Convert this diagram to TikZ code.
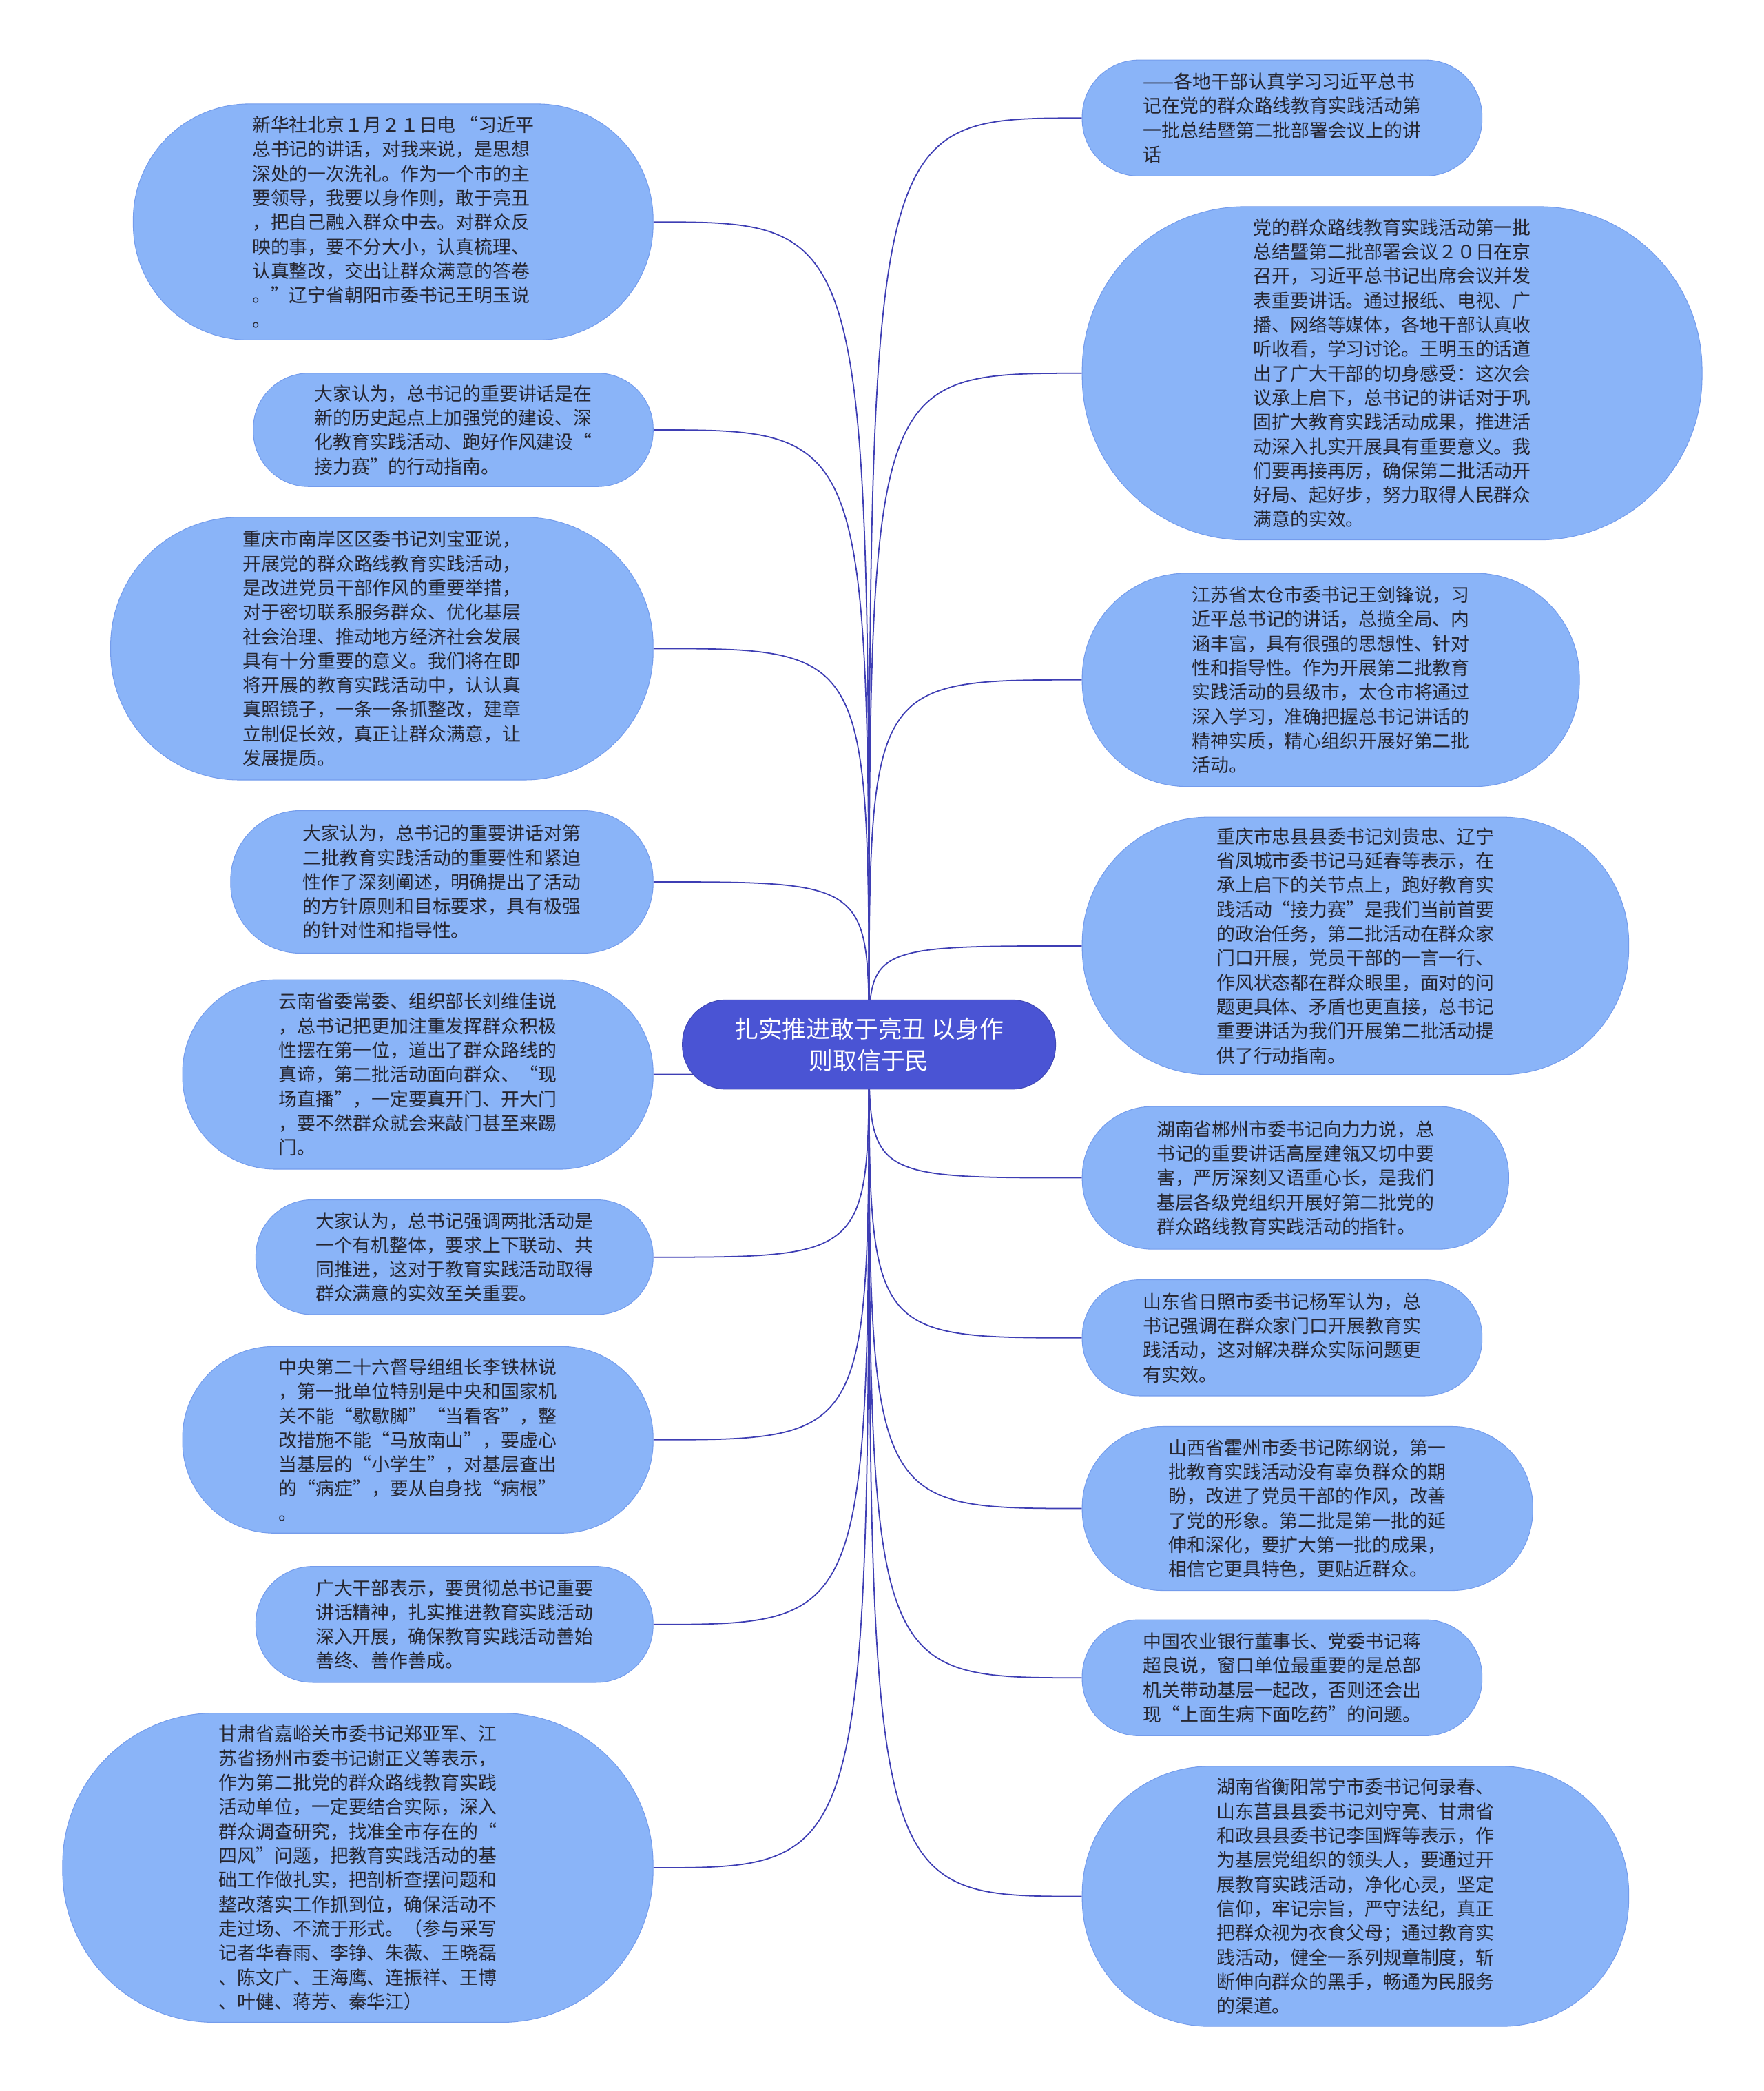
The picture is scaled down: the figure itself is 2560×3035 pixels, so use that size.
\documentclass[tikz,border=0pt]{standalone}
\usepackage{fontspec}
\usepackage{tikz}
\usetikzlibrary{backgrounds}
\newfontfamily\cjkfont{Noto Sans CJK SC}
\definecolor{leafcolor}{RGB}{138,180,248}
\definecolor{leafline}{RGB}{116,156,236}
\definecolor{rootcolor}{RGB}{74,84,212}
\definecolor{linkcolor}{RGB}{62,62,180}
\definecolor{inkcolor}{RGB}{38,38,48}

\begin{document}
\begin{tikzpicture}[x=0.02cm,y=-0.02cm,
  leaf/.style 2 args={draw=leafline, line width=0.6pt, fill=leafcolor, text=inkcolor, align=left,
    font=\cjkfont\fontsize{15.3pt}{20.1pt}\selectfont, inner sep=0pt,
    minimum width=#1*0.02cm, minimum height=#2*0.02cm, rounded corners=#2*0.0098cm},
  rootbox/.style={draw=rootcolor!85!black, line width=0.6pt, fill=rootcolor, text=white, align=center,
    font=\cjkfont\fontsize{19.8pt}{26.4pt}\selectfont, inner sep=0pt,
    minimum width=541.8*0.02cm, minimum height=129.6*0.02cm, rounded corners=129.6*0.0098cm},
  link/.style={linkcolor, line width=1pt}]
\useasboundingbox (0,0) rectangle (2560,3035);

\node[rootbox] (root) at (1261.6,1516.1) {扎实推进敢于亮丑 以身作\\则取信于民};

\node[leaf={754.7}{342.5}] (l1) at (570.8,322.2) {新华社北京１月２１日电 “习近平\\
总书记的讲话，对我来说，是思想\\
深处的一次洗礼。作为一个市的主\\
要领导，我要以身作则，敢于亮丑\\
，把自己融入群众中去。对群众反\\
映的事，要不分大小，认真梳理、\\
认真整改，交出让群众满意的答卷\\
。”辽宁省朝阳市委书记王明玉说\\
。};
\node[leaf={580.5}{164.5}] (l2) at (658,624) {大家认为，总书记的重要讲话是在\\
新的历史起点上加强党的建设、深\\
化教育实践活动、跑好作风建设“\\
接力赛”的行动指南。};
\node[leaf={787.6}{381.2}] (l3) at (554.4,941.4) {重庆市南岸区区委书记刘宝亚说，\\
开展党的群众路线教育实践活动，\\
是改进党员干部作风的重要举措，\\
对于密切联系服务群众、优化基层\\
社会治理、推动地方经济社会发展\\
具有十分重要的意义。我们将在即\\
将开展的教育实践活动中，认认真\\
真照镜子，一条一条抓整改，建章\\
立制促长效，真正让群众满意，让\\
发展提质。};
\node[leaf={613.4}{207}] (l4) at (641.5,1280) {大家认为，总书记的重要讲话对第\\
二批教育实践活动的重要性和紧迫\\
性作了深刻阐述，明确提出了活动\\
的方针原则和目标要求，具有极强\\
的针对性和指导性。};
\node[leaf={683.1}{274.8}] (l5) at (606.6,1559.6) {云南省委常委、组织部长刘维佳说\\
，总书记把更加注重发挥群众积极\\
性摆在第一位，道出了群众路线的\\
真谛，第二批活动面向群众、“现\\
场直播”，一定要真开门、开大门\\
，要不然群众就会来敲门甚至来踢\\
门。};
\node[leaf={576.7}{166.4}] (l6) at (659.8,1824.7) {大家认为，总书记强调两批活动是\\
一个有机整体，要求上下联动、共\\
同推进，这对于教育实践活动取得\\
群众满意的实效至关重要。};
\node[leaf={683.1}{270.9}] (l7) at (606.6,2089.8) {中央第二十六督导组组长李铁林说\\
，第一批单位特别是中央和国家机\\
关不能“歇歇脚”“当看客”，整\\
改措施不能“马放南山”，要虚心\\
当基层的“小学生”，对基层查出\\
的“病症”，要从自身找“病根”\\
。};
\node[leaf={576.7}{168.3}] (l8) at (659.8,2357.8) {广大干部表示，要贯彻总书记重要\\
讲话精神，扎实推进教育实践活动\\
深入开展，确保教育实践活动善始\\
善终、善作善成。};
\node[leaf={857.2}{448.9}] (l9) at (519.5,2711) {甘肃省嘉峪关市委书记郑亚军、江\\
苏省扬州市委书记谢正义等表示，\\
作为第二批党的群众路线教育实践\\
活动单位，一定要结合实际，深入\\
群众调查研究，找准全市存在的“\\
四风”问题，把教育实践活动的基\\
础工作做扎实，把剖析查摆问题和\\
整改落实工作抓到位，确保活动不\\
走过场、不流于形式。（参与采写\\
记者华春雨、李铮、朱薇、王晓磊\\
、陈文广、王海鹰、连振祥、王博\\
、叶健、蒋芳、秦华江）};

\node[leaf={580.5}{168.3}] (r1) at (1861.4,171.3) {——各地干部认真学习习近平总书\\
记在党的群众路线教育实践活动第\\
一批总结暨第二批部署会议上的讲\\
话};
\node[leaf={899.8}{483.8}] (r2) at (2021.1,541.8) {党的群众路线教育实践活动第一批\\
总结暨第二批部署会议２０日在京\\
召开，习近平总书记出席会议并发\\
表重要讲话。通过报纸、电视、广\\
播、网络等媒体，各地干部认真收\\
听收看，学习讨论。王明玉的话道\\
出了广大干部的切身感受：这次会\\
议承上启下，总书记的讲话对于巩\\
固扩大教育实践活动成果，推进活\\
动深入扎实开展具有重要意义。我\\
们要再接再厉，确保第二批活动开\\
好局、起好步，努力取得人民群众\\
满意的实效。};
\node[leaf={721.8}{309.6}] (r3) at (1932.1,986.8) {江苏省太仓市委书记王剑锋说，习\\
近平总书记的讲话，总揽全局、内\\
涵丰富，具有很强的思想性、针对\\
性和指导性。作为开展第二批教育\\
实践活动的县级市，太仓市将通过\\
深入学习，准确把握总书记讲话的\\
精神实质，精心组织开展好第二批\\
活动。};
\node[leaf={793.4}{373.5}] (r4) at (1967.9,1372.9) {重庆市忠县县委书记刘贵忠、辽宁\\
省凤城市委书记马延春等表示，在\\
承上启下的关节点上，跑好教育实\\
践活动“接力赛”是我们当前首要\\
的政治任务，第二批活动在群众家\\
门口开展，党员干部的一言一行、\\
作风状态都在群众眼里，面对的问\\
题更具体、矛盾也更直接，总书记\\
重要讲话为我们开展第二批活动提\\
供了行动指南。};
\node[leaf={619.2}{207}] (r5) at (1880.8,1709.6) {湖南省郴州市委书记向力力说，总\\
书记的重要讲话高屋建瓴又切中要\\
害，严厉深刻又语重心长，是我们\\
基层各级党组织开展好第二批党的\\
群众路线教育实践活动的指针。};
\node[leaf={580.5}{168.3}] (r6) at (1861.4,1941.8) {山东省日照市委书记杨军认为，总\\
书记强调在群众家门口开展教育实\\
践活动，这对解决群众实际问题更\\
有实效。};
\node[leaf={654}{238}] (r7) at (1898.2,2189.5) {山西省霍州市委书记陈纲说，第一\\
批教育实践活动没有辜负群众的期\\
盼，改进了党员干部的作风，改善\\
了党的形象。第二批是第一批的延\\
伸和深化，要扩大第一批的成果，\\
相信它更具特色，更贴近群众。};
\node[leaf={580.5}{168.3}] (r8) at (1861.4,2435.2) {中国农业银行董事长、党委书记蒋\\
超良说，窗口单位最重要的是总部\\
机关带动基层一起改，否则还会出\\
现“上面生病下面吃药”的问题。};
\node[leaf={793.4}{377.3}] (r9) at (1967.9,2752.5) {湖南省衡阳常宁市委书记何录春、\\
山东莒县县委书记刘守亮、甘肃省\\
和政县县委书记李国辉等表示，作\\
为基层党组织的领头人，要通过开\\
展教育实践活动，净化心灵，坚定\\
信仰，牢记宗旨，严守法纪，真正\\
把群众视为衣食父母；通过教育实\\
践活动，健全一系列规章制度，斩\\
断伸向群众的黑手，畅通为民服务\\
的渠道。};

\begin{scope}[on background layer]
\fill[white] (0,0) rectangle (2560,3035);
\foreach \i in {1,...,9} {
  \draw[link] (root.center) .. controls (root.center |- l\i.east) .. (l\i.east);
  \draw[link] (root.center) .. controls (root.center |- r\i.west) .. (r\i.west);
}
\end{scope}
\end{tikzpicture}
\end{document}
